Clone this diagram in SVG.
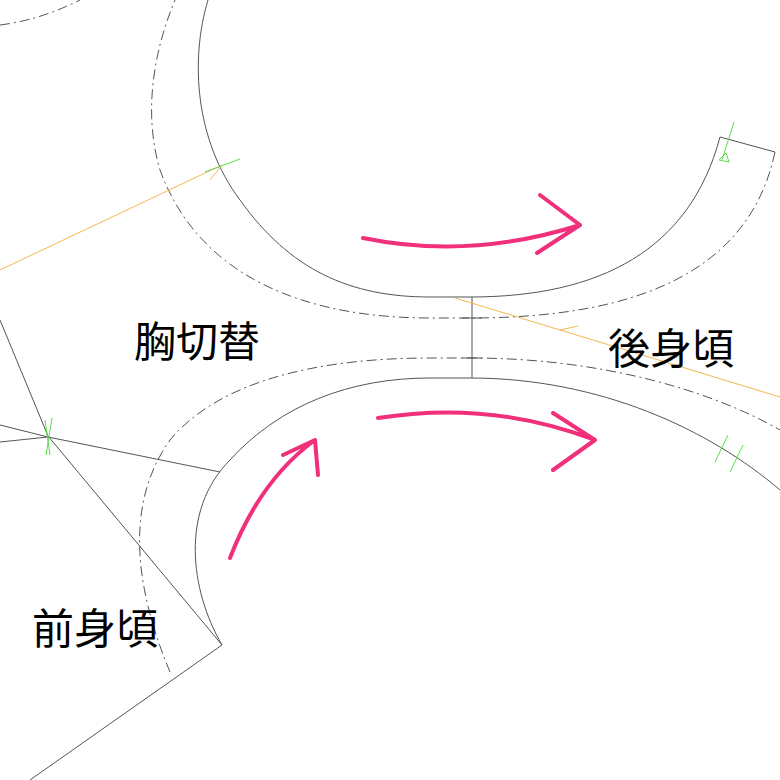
<svg xmlns="http://www.w3.org/2000/svg" width="780" height="780" viewBox="0 0 780 780">
<style>
.s{fill:none;stroke:#555;stroke-width:1}
.d{fill:none;stroke:#555;stroke-width:1;stroke-dasharray:10 4 2 4}
.o{fill:none;stroke:#f4b850;stroke-width:1}
.g{fill:none;stroke:#5cdc4c;stroke-width:1}
.p{fill:none;stroke:#f0307a;stroke-width:4;stroke-linecap:round;stroke-linejoin:round}
text{font-family:"Noto Sans CJK JP","Noto Sans CJK SC",sans-serif;font-size:42px;fill:#000}
</style>
<rect width="780" height="780" fill="#fff"/>
<g id="pattern">
<path class="d" d="M0,25 Q40,20 80,0"/>
<path class="s" d="M208,0 C190,60 195,140 240,200 C290,270 350,297 430,297 L470,297 C600,297 690,250 720,137 L775,152"/>
<path class="d" d="M775,152 C750,270 640,318 470,318 L430,318 C310,318 200,280 160,170 C145,120 150,60 175,0"/>
<path class="s" d="M222,645 C190,590 180,510 230,460 C280,405 350,378 430,378 L470,378 C600,378 710,430 780,490"/>
<path class="d" d="M170,672 C140,600 120,510 170,440 C220,380 320,358 430,358 L470,358 C600,358 710,390 780,430"/>
<path class="s" d="M472,297 V378 M462,318 H482 M462,358 H482"/>
<path class="s" d="M0,320 L48,436 L222,645 L30,780 M0,425 L48,437 L220,472 M0,442 L48,437"/>
<path class="o" d="M455,298 L780,397 M560,330 L578,326 M0,270 L222,165 M210,180 L222,165"/>
<path class="g" d="M205,172 L240,159 M45,420 L50,455 M52,418 L46,455 M715,462 L728,435 M730,472 L743,445 M734,122 L722,160 M719,160 L726,153 L729,162 Z"/>
</g>
<g id="arrows">
<path class="p" d="M363,238 Q470,260 580,225 M540,195 L580,225 L537,253"/>
<path class="p" d="M378,418 Q490,400 595,440 M553,413 L595,440 L553,470"/>
<path class="p" d="M230,558 Q260,480 315,440 M283,455 L315,440 L318,475"/>
</g>
<g id="labels">
<text x="134" y="357">胸切替</text>
<text x="608" y="364">後身頃</text>
<text x="32" y="644">前身頃</text>
</g>
</svg>
